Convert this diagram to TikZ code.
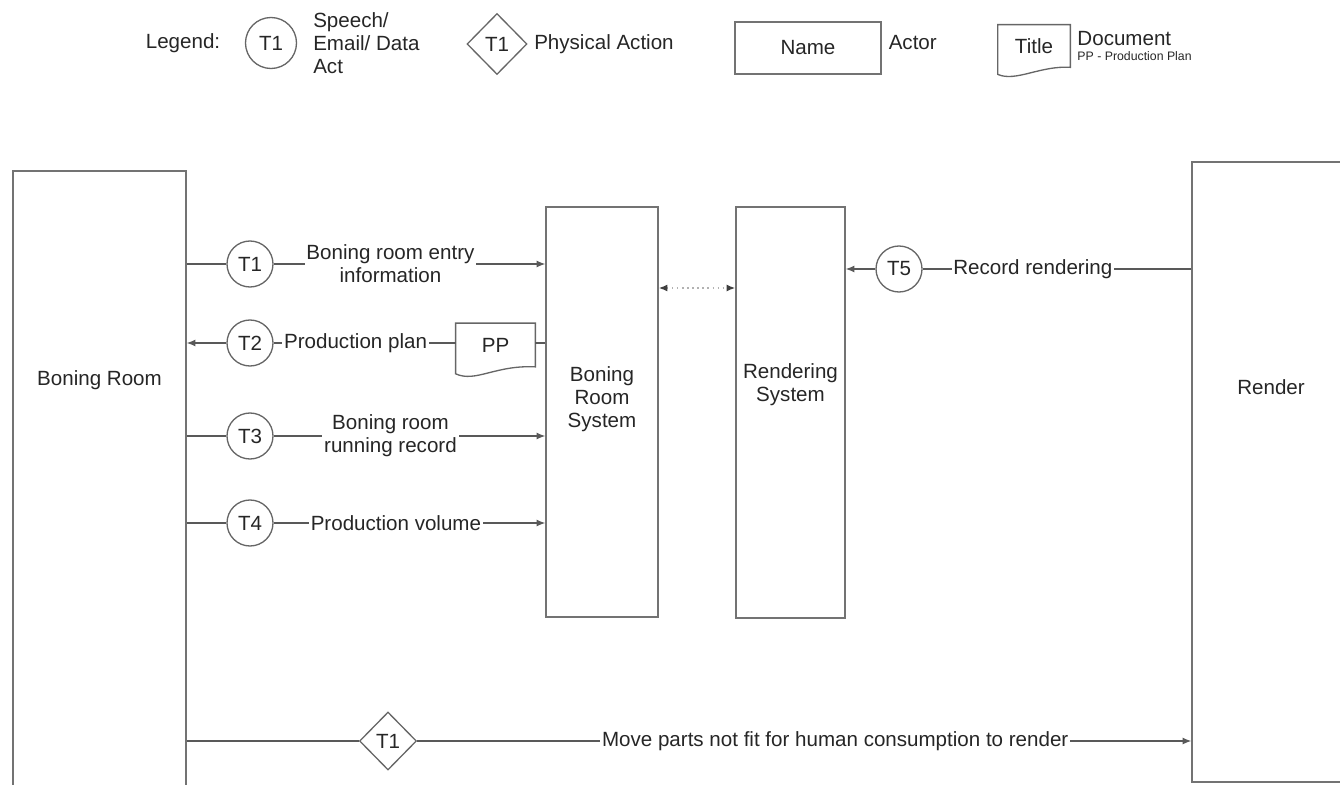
\documentclass[tikz,border=0pt]{standalone}
\usepackage{fontspec}
\setmainfont{Liberation Sans}
\usetikzlibrary{positioning, arrows.meta, calc, shapes.geometric}

\begin{document}
\begin{tikzpicture}[
  x=0.2mm, y=-0.2mm,
  every node/.style = {font=\fontsize{11.7pt}{13pt}\selectfont, text=black!85},
  actor/.style = {draw=black!55, line width=0.75pt, inner sep=0pt},
  act/.style = {circle, draw=black!60, line width=0.75pt, minimum size=9.2mm, inner sep=0pt},
  physical/.style = {diamond, draw=black!60, line width=0.75pt, minimum width=11.4mm, minimum height=11.6mm, inner sep=0pt},
  docedge/.style = {draw=black!60, line width=0.75pt},
  flow/.style = {draw=black!65, line width=0.75pt},
  arrow/.style = {flow, -{Latex[length=5pt, width=4pt]}},
  sync/.style = {draw=black!30, line width=0.9pt, dotted,
    {Latex[length=5pt, width=4pt, color=black!75]}-{Latex[length=5pt, width=4pt, color=black!75]}},
  lbl/.style = {fill=white, inner sep=1pt, align=center}
]
  \useasboundingbox (0,0) rectangle (1340,785);

  % Legend
  \node[] (leg) at (183,43) {Legend:};
  \node[act, minimum size=10.2mm] (leg_act) at (271,43) {T1};
  \node[align=left, inner sep=1pt] (leg_act_txt) [right=2.8mm of leg_act] {Speech/\\Email/ Data\\Act};
  \node[physical, minimum width=12mm, minimum height=12.2mm] (leg_phys) at (497,44) {T1};
  \node[inner sep=1pt] (leg_phys_txt) [right=0.9mm of leg_phys] {Physical Action};
  \node[actor, minimum width=29.2mm, minimum height=10.4mm] (leg_actor) at (808,48) {Name};
  \node[inner sep=1pt] (leg_actor_txt) [right=1mm of leg_actor, yshift=1mm] {Actor};
  \node[minimum width=14.4mm, minimum height=8.4mm, inner sep=0pt] (leg_doc) at (1034,46) {Title};
  \draw[docedge] (leg_doc.north west) -- (leg_doc.north east) -- (leg_doc.south east)
    .. controls +(-30,-2) and +(18,8) .. ($(leg_doc.south west)+(0,7)$) -- cycle;
  \node[align=left, inner sep=1pt] (leg_doc_txt) [right=1mm of leg_doc]
    {Document\\[-4pt]{\fontsize{7pt}{8pt}\selectfont PP - Production Plan}};

  % Actors
  \node[actor, minimum width=34.6mm, minimum height=124mm] (bra) at (99.5,481) {};
  \node[] (bra_txt) at (bra.north |- 0,380) {Boning Room};
  \node[actor, minimum width=31.6mm, minimum height=124mm] (render) at (1271,472) {};
  \node[] (render_txt) at (render.north |- 0,387) {Render};
  \node[actor, minimum width=22.4mm, minimum height=82mm] (brs) at (602,412) {};
  \node[align=center] (brs_txt) at (brs.north |- 0,399) {Boning\\Room\\System};
  \node[actor, minimum width=21.8mm, minimum height=82.2mm] (rs) at (790.5,412.5) {};
  \node[align=center] (rs_txt) at (rs.north |- 0,385) {Rendering\\System};

  % Transactions
  \node[act] (t1) at (250,264) {T1};
  \node[act] (t2) at (250,343) {T2};
  \node[act] (t3) at (250,436) {T3};
  \node[act] (t4) at (250,523) {T4};
  \node[act] (t5) at (899,269) {T5};
  \node[physical] (move) at (388,741) {T1};
  \node[minimum width=15.8mm, minimum height=8.6mm, inner sep=0pt] (pp) at (495.5,345) {PP};
  \draw[docedge] (pp.north west) -- (pp.north east) -- (pp.south east)
    .. controls +(-40,-2) and +(20,9) .. ($(pp.south west)+(0,7)$) -- cycle;

  % Connectors
  \draw[flow] (bra.east |- t1) -- (t1);
  \draw[arrow] (t1) -- node[lbl, pos=0.43] {Boning room entry\\information} (brs.west |- t1);

  \draw[flow] (brs.west |- t2) -- (pp.east |- t2);
  \draw[flow] (pp.west |- t2) -- node[lbl, pos=0.55] {Production plan} (t2);
  \draw[arrow] (t2) -- (bra.east |- t2);

  \draw[flow] (bra.east |- t3) -- (t3);
  \draw[arrow] (t3) -- node[lbl, pos=0.43] {Boning room\\running record} (brs.west |- t3);

  \draw[flow] (bra.east |- t4) -- (t4);
  \draw[arrow] (t4) -- node[lbl, pos=0.45] {Production volume} (brs.west |- t4);

  \draw[flow] (render.west |- t5) -- node[lbl, pos=0.59] {Record rendering} (t5);
  \draw[arrow] (t5) -- (rs.east |- t5);

  \coordinate (sync) at (700,288);
  \draw[sync] (brs.east |- sync) -- (rs.west |- sync);

  \draw[flow] (bra.east |- move) -- (move);
  \draw[arrow] (move) -- node[lbl, pos=0.54] {Move parts not fit for human consumption to render} (render.west |- move);
\end{tikzpicture}
\end{document}
